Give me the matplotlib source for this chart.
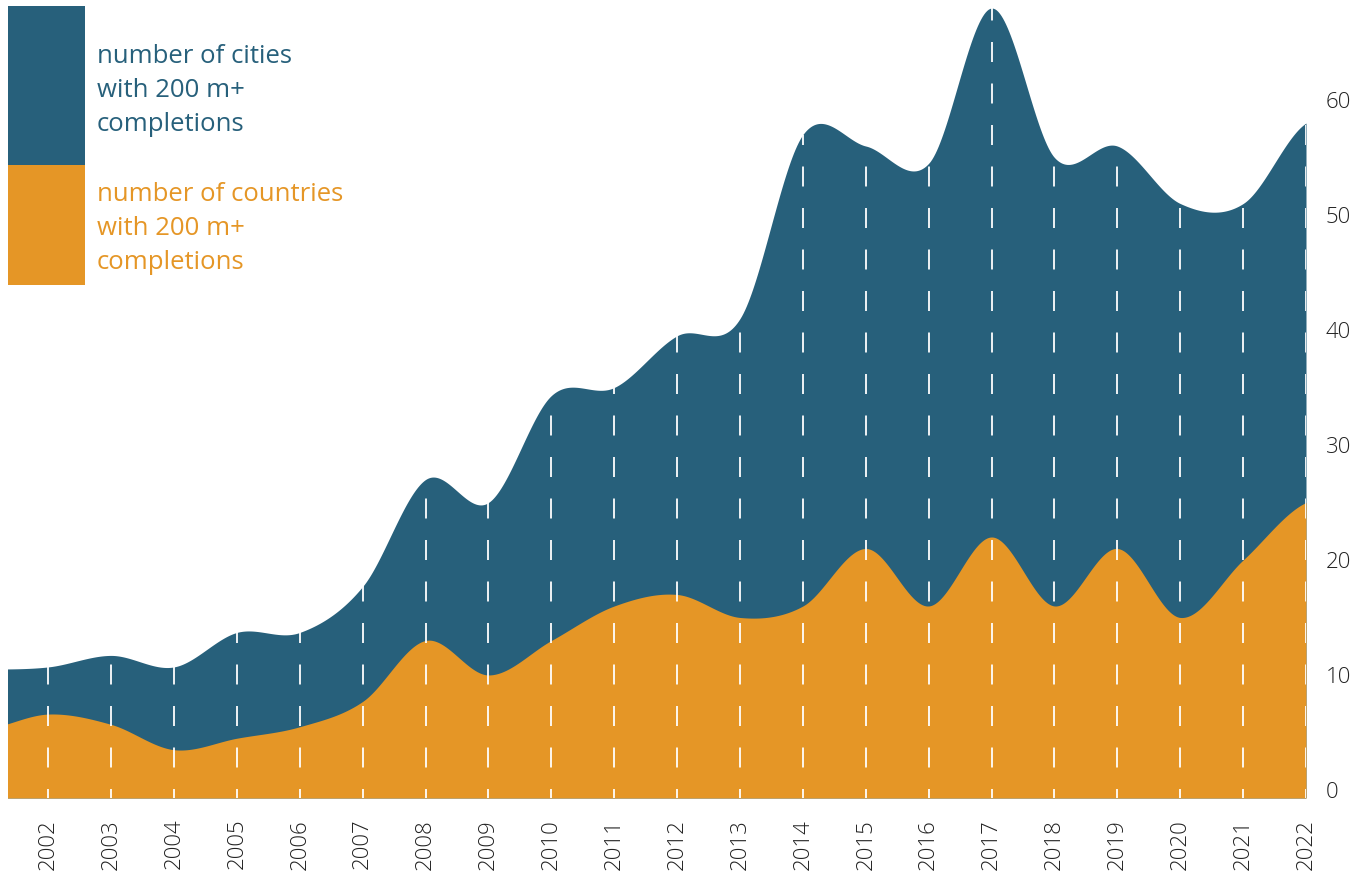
import numpy as np
import matplotlib.pyplot as plt
from matplotlib.patches import Rectangle

# data (2001 point sits just outside the left edge)
years = np.arange(2001, 2023)
cities = [10.5, 10.7, 11.7, 10.7, 13.7, 13.7, 17.7, 27, 25, 34.3, 35, 39.5, 41,
          57, 56, 54.5, 68, 55, 56, 51, 51, 58]
countries = [5.3, 6.6, 5.7, 3.5, 4.5, 5.5, 7.7, 13, 10, 13, 16, 17, 15,
             16, 21, 16, 22, 16, 21, 15, 20, 25]
year_ticks = np.arange(2002, 2023)
y_ticks = [0, 10, 20, 30, 40, 50, 60]

cities_label = "number of cities\nwith 200 m+\ncompletions"
countries_label = "number of countries\nwith 200 m+\ncompletions"

BLUE = "#27607b"
ORANGE = "#e59626"
FONT = "Open Sans"


def smooth(x, y, n=40):
    # cardinal (catmull-rom) curve through the points, like the original chart
    y = np.asarray(y, dtype=float)
    yp = np.concatenate([[y[0]], y, [y[-1]]])
    xs, ys = [], []
    for i in range(len(y) - 1):
        m0 = (yp[i + 2] - yp[i]) / 2
        m1 = (yp[i + 3] - yp[i + 1]) / 2
        t = np.linspace(0, 1, n, endpoint=False)
        h00 = 2 * t**3 - 3 * t**2 + 1
        h10 = t**3 - 2 * t**2 + t
        h01 = -2 * t**3 + 3 * t**2
        h11 = t**3 - t**2
        xs.append(x[i] + t * (x[i + 1] - x[i]))
        ys.append(h00 * y[i] + h10 * m0 + h01 * y[i + 1] + h11 * m1)
    xs.append([x[-1]])
    ys.append([y[-1]])
    return np.concatenate(xs), np.concatenate(ys)


W, H = 1362, 875
fig = plt.figure(figsize=(W / 100, H / 100), dpi=100)
ax = fig.add_axes([8 / W, (H - 798) / H, (1306 - 8) / W, 798 / H])

y0 = -0.7
xc, yc = smooth(years, cities)
xn, yn = smooth(years, countries)
ax.fill_between(xc, y0, yc, color=BLUE, lw=0)
ax.fill_between(xn, y0, yn, color=ORANGE, lw=0)

# white dashed year lines, from the bottom up to the cities value
lw = 1.44
top = np.array(cities)[np.isin(years, year_ticks)]
ax.vlines(year_ticks, y0, top, color="white", lw=lw, alpha=0.9,
          linestyles=[(11 / lw * 0.72, (20 * 0.72 / lw, 21.5 * 0.72 / lw))])

ax.set_xlim(2001.36, 2022)
ax.set_ylim(y0, 68.7)
for s in ax.spines.values():
    s.set_visible(False)

ax.set_xticks(year_ticks)
ax.set_xticklabels([str(y) for y in year_ticks], rotation=90, fontsize=16,
                   family=FONT, fontweight="light", color="#222222")
ax.tick_params(axis="x", length=0, pad=15)
ax.yaxis.tick_right()
ax.set_yticks(y_ticks)
ax.set_yticklabels([str(v) for v in y_ticks], fontsize=16, family=FONT,
                   fontweight="light", color="#222222")
ax.tick_params(axis="y", length=0, pad=14)

# legend blocks
fig.patches.append(Rectangle((8 / W, (H - 165) / H), 77 / W, 159 / H,
                             transform=fig.transFigure, color=BLUE, lw=0))
fig.patches.append(Rectangle((8 / W, (H - 285) / H), 77 / W, 120 / H,
                             transform=fig.transFigure, color=ORANGE, lw=0))
for label, color, baselines in [(cities_label, BLUE, [63, 97, 131]),
                                (countries_label, ORANGE, [201, 235, 269])]:
    for line, yb in zip(label.split("\n"), baselines):
        fig.text(97 / W, (H - yb) / H, line, fontsize=18.5, family=FONT,
                 color=color, va="baseline", ha="left")

fig.savefig("out.png", dpi=100)
